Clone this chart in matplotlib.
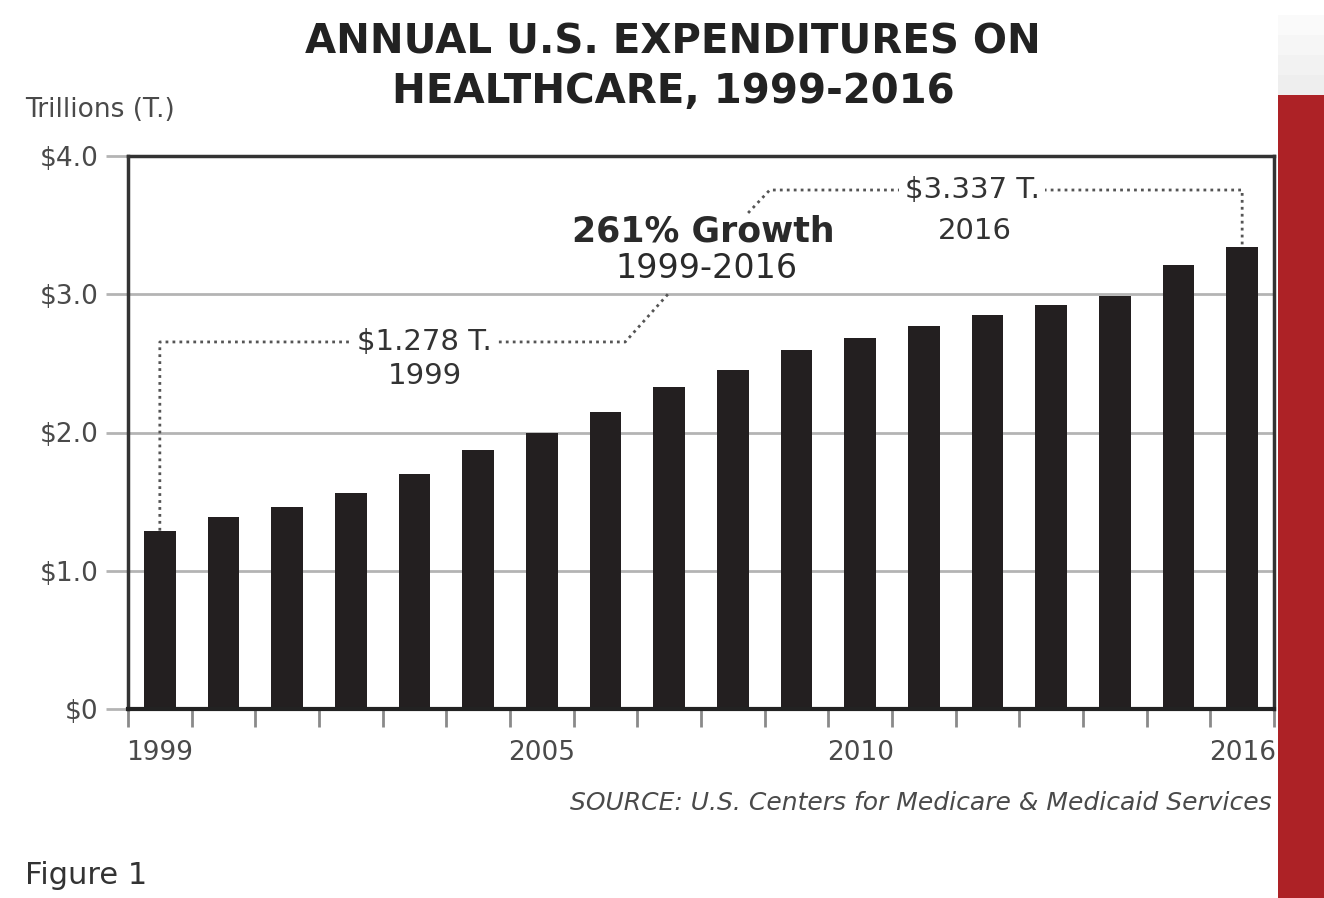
import numpy as np
import matplotlib
matplotlib.use("Agg")
import matplotlib.pyplot as plt
from matplotlib.patches import Rectangle

# --- DATA (trillions of dollars) ---
years = list(range(1999, 2017))
spending = [1.29, 1.39, 1.46, 1.56, 1.70, 1.87, 2.00, 2.15, 2.33, 2.45,
            2.60, 2.68, 2.77, 2.85, 2.92, 2.99, 3.21, 3.34]
year_labels = [1999, 2005, 2010, 2016]
y_ticks = [0, 1, 2, 3, 4]
y_tick_labels = ["$0", "$1.0", "$2.0", "$3.0", "$4.0"]

W, H = 1324, 898
BAR_COLOR = "#231f20"
GRID_COLOR = "#b4b4b4"
TEXT_COLOR = "#4a4a4a"
RED = "#ad2226"

plt.rcParams['font.family'] = ['DejaVu Sans']

fig = plt.figure(figsize=(W / 100, H / 100), dpi=100)
fig.patch.set_facecolor("white")


def fx(px):
    return px / W


def fy(py):
    return 1 - py / H


# red side panel with a faint grey strip above it
fig.patches.append(Rectangle((fx(1278), 0), fx(W - 1278), fy(95), transform=fig.transFigure,
                             facecolor=RED, edgecolor="none", zorder=0))
for i, shade in enumerate(["#fafafa", "#f6f6f6", "#f2f2f2", "#eeeeee"]):
    top = 15 + i * 20
    fig.patches.append(Rectangle((fx(1278), fy(top + 20)), fx(W - 1278), fy(top) - fy(top + 20),
                                 transform=fig.transFigure, facecolor=shade,
                                 edgecolor="none", zorder=0))

ax = fig.add_axes([fx(128), fy(709), fx(1274 - 128), fy(156) - fy(709)])
ax.bar(years, spending, width=0.5, color=BAR_COLOR, zorder=3)

ax.set_xlim(years[0] - 0.5, years[-1] + 0.5)
ax.set_ylim(0, 4)

# y axis
ax.set_yticks(y_ticks)
ax.set_yticklabels(y_tick_labels, fontsize=19, color=TEXT_COLOR)
ax.tick_params(axis="y", length=16, width=2, color=GRID_COLOR, pad=5)
ax.grid(axis="y", color=GRID_COLOR, linewidth=2, zorder=1)

# x axis: labels at bar centres, tick marks at bin edges
ax.set_xticks(year_labels)
ax.set_xticklabels([str(y) for y in year_labels], fontsize=19, color=TEXT_COLOR)
ax.tick_params(axis="x", length=0, pad=22)
ax.set_xticks(np.arange(years[0] - 0.5, years[-1] + 1.0, 1.0), minor=True)
ax.tick_params(axis="x", which="minor", length=13, width=2, color="#8a8a8a")

for side in ["left", "top", "right"]:
    ax.spines[side].set_color("#333333")
    ax.spines[side].set_linewidth(2.5)
ax.spines["bottom"].set_color("#222222")
ax.spines["bottom"].set_linewidth(3)
ax.spines["bottom"].set_zorder(4)

# --- annotations ---
dot_style = dict(color="#555555", linewidth=2, linestyle=(0, (1, 1.5)), zorder=2)
y_low = 2.655
ax.plot([years[0], years[0], 2006.31, 2006.98],
        [spending[0], y_low, y_low, 3.0], **dot_style)
y_high = 3.754
ax.plot([2008.24, 2008.58, years[-1], years[-1]],
        [3.588, y_high, y_high, spending[-1]], **dot_style)

box = dict(facecolor="white", edgecolor="none", pad=4)
ax.text(2003.16, y_low, "$1.278 T.", ha="center", va="center", fontsize=21,
        color="#333333", bbox=box, zorder=5)
ax.text(2003.16, 2.41, "1999", ha="center", va="center", fontsize=21, color="#333333", zorder=5)
ax.text(2011.76, y_high, "$3.337 T.", ha="center", va="center", fontsize=21,
        color="#333333", bbox=box, zorder=5)
ax.text(2011.8, 3.46, "2016", ha="center", va="center", fontsize=21, color="#333333", zorder=5)
ax.text(2007.53, 3.457, "261% Growth", ha="center", va="center", fontsize=25,
        fontweight="bold", color="#2a2a2a", zorder=5)
ax.text(2007.58, 3.185, "1999-2016", ha="center", va="center", fontsize=24,
        color="#2a2a2a", zorder=5)

# --- figure texts ---
fig.text(fx(673), fy(42), "ANNUAL U.S. EXPENDITURES ON", ha="center", va="center",
         fontsize=29, fontweight="bold", color="#222222")
fig.text(fx(673), fy(92), "HEALTHCARE, 1999-2016", ha="center", va="center",
         fontsize=29, fontweight="bold", color="#222222")
fig.text(fx(25), fy(110), "Trillions (T.)", ha="left", va="center", fontsize=19, color=TEXT_COLOR)
fig.text(fx(1272), fy(803), "SOURCE: U.S. Centers for Medicare & Medicaid Services",
         ha="right", va="center", fontsize=18, fontstyle="italic", color=TEXT_COLOR)
fig.text(fx(25), fy(875), "Figure 1", ha="left", va="center", fontsize=22, color="#333333")

fig.savefig("out.png", dpi=100)
